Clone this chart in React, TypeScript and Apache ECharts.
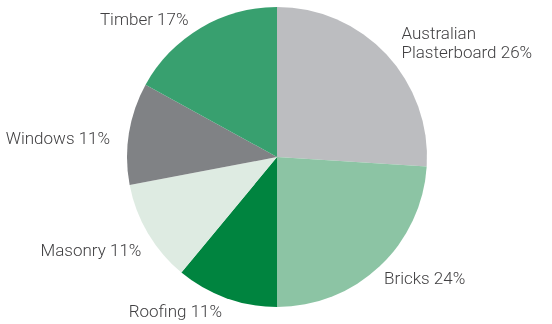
import React, { useEffect, useRef } from "react";
import * as echarts from "echarts";

const categories = ["Australian\nPlasterboard", "Bricks", "Roofing", "Masonry", "Windows", "Timber"];
const values = [26, 24, 11, 11, 11, 17];
const colors = ["#BCBDC0", "#8CC4A4", "#00843F", "#DEEBE2", "#808285", "#38A06F"];
const labelShift = [
  [-3, 1],
  [-13, -1],
  [7, -4],
  [14, 7],
  [4, 7],
  [2, 7],
];

export default function App() {
  const ref = useRef<HTMLDivElement>(null);
  useEffect(() => {
    const chart = echarts.init(ref.current!, undefined, { renderer: "svg" });
    chart.setOption({
      animation: false,
      series: [
        {
          type: "pie",
          center: [277, 157],
          radius: 150,
          startAngle: 90,
          clockwise: true,
          avoidLabelOverlap: false,
          data: categories.map((c, i) => ({
            name: c,
            value: values[i],
            itemStyle: { color: colors[i] },
          })),
          label: {
            show: true,
            position: "outside",
            formatter: (p: any) => `${p.name} ${p.value}%`,
            fontFamily: "Roboto",
            fontWeight: 300,
            fontSize: 17,
            color: "#414042",
            lineHeight: 19,
          },
          labelLine: { show: false, length: 18, length2: 0 },
          labelLayout: (p: any) => ({ dx: labelShift[p.dataIndex][0], dy: labelShift[p.dataIndex][1] }),
          emphasis: { disabled: true },
        },
      ],
    });
    return () => chart.dispose();
  }, []);
  return <div ref={ref} style={{ position: "fixed", left: 0, top: 0, width: 552, height: 324 }} />;
}
